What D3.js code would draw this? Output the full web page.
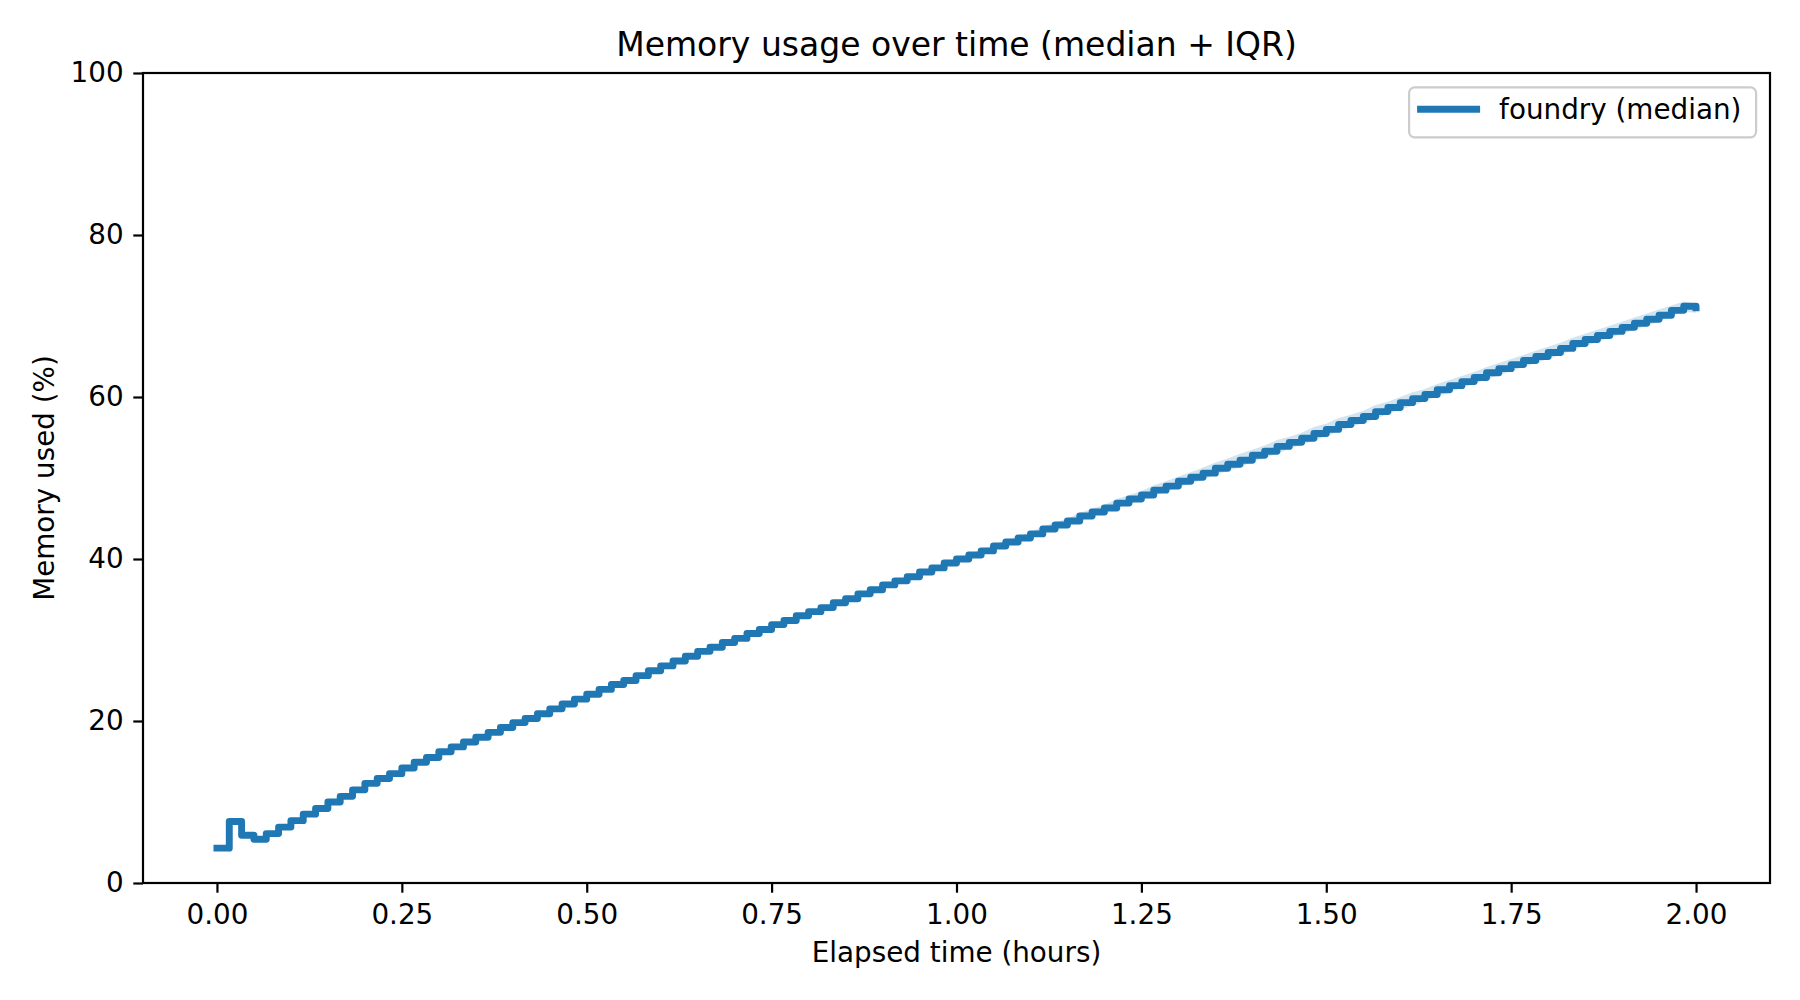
<!DOCTYPE html>
<html>
<head>
<meta charset="utf-8">
<script src="https://cdn.jsdelivr.net/npm/d3@7"></script>
<style>
    html, body { margin: 0; padding: 0; background: #fff; overflow: hidden; }
    svg { display: block; }
    svg text { font-family: "DejaVu Sans", sans-serif; fill: #000; }
</style>
</head>
<body>
<div id="chart"></div>
<script>

// median memory used (%) per minute sample, 0 .. 120 min
const medianPct = [
    4.3, 7.6, 5.9, 5.4, 6.1, 6.9, 7.7, 8.5, 9.2, 10.0,
    10.7, 11.5, 12.3, 12.9, 13.5, 14.2, 14.9, 15.5, 16.2, 16.8,
    17.4, 18.0, 18.6, 19.2, 19.8, 20.3, 20.9, 21.5, 22.1, 22.7,
    23.3, 23.9, 24.5, 25.0, 25.6, 26.2, 26.8, 27.4, 28.0, 28.6,
    29.1, 29.7, 30.2, 30.8, 31.3, 31.9, 32.4, 33.0, 33.5, 34.0,
    34.6, 35.1, 35.7, 36.2, 36.8, 37.3, 37.8, 38.4, 38.9, 39.5,
    40.0, 40.5, 41.0, 41.6, 42.1, 42.6, 43.1, 43.7, 44.2, 44.7,
    45.3, 45.8, 46.3, 46.9, 47.4, 47.9, 48.5, 49.0, 49.6, 50.1,
    50.6, 51.2, 51.7, 52.2, 52.8, 53.3, 53.9, 54.4, 54.9, 55.5,
    56.0, 56.6, 57.1, 57.6, 58.2, 58.7, 59.3, 59.8, 60.3, 60.9,
    61.4, 61.9, 62.4, 63.0, 63.5, 64.0, 64.5, 65.0, 65.5, 66.0,
    66.6, 67.1, 67.6, 68.1, 68.6, 69.1, 69.6, 70.1, 70.7, 71.2,
    71.0
];

// IQR spread below / above the median (percentage points)
const iqrBelow = [
    0, 0, 0, 0, 0, 0, 0, 0, 0, 0,
    0, 0, 0, 0, 0, 0, 0, 0, 0, 0,
    0, 0, 0, 0, 0, 0, 0, 0, 0, 0,
    0, 0, 0, 0, 0, 0, 0, 0, 0, 0,
    0, 0, 0, 0, 0, 0, 0, 0, 0, 0,
    0, 0, 0, 0, 0, 0, 0, 0, 0, 0,
    0.1, 0.1, 0.1, 0.2, 0.2, 0.2, 0.3, 0.3, 0.3, 0.4,
    0.4, 0.5, 0.5, 0.6, 0.6, 0.6, 0.7, 0.7, 0.7, 0.8,
    0.8, 0.8, 0.8, 0.9, 0.8, 0.8, 0.9, 0.8, 0.8, 0.9,
    0.8, 0.9, 0.8, 0.8, 0.9, 0.8, 0.8, 0.9, 0.8, 0.8,
    0.8, 0.8, 0.8, 0.8, 0.8, 0.8, 0.8, 0.8, 0.8, 0.8,
    0.8, 0.8, 0.8, 0.8, 0.8, 0.8, 0.8, 0.8, 0.7, 0.7,
    0.6
];
const iqrAbove = [
    0, 0, 0, 0, 0, 0, 0, 0, 0, 0,
    0, 0, 0, 0, 0, 0, 0, 0, 0, 0,
    0, 0, 0, 0, 0, 0, 0, 0, 0, 0,
    0, 0, 0, 0, 0, 0, 0, 0, 0, 0,
    0, 0, 0, 0, 0, 0, 0, 0, 0, 0,
    0, 0, 0, 0, 0, 0, 0, 0, 0, 0,
    0.1, 0.1, 0.1, 0.1, 0.2, 0.2, 0.2, 0.3, 0.3, 0.3,
    0.4, 0.4, 0.4, 0.5, 0.5, 0.5, 0.6, 0.6, 0.6, 0.6,
    0.7, 0.7, 0.7, 0.8, 0.7, 0.7, 0.8, 0.7, 0.7, 0.8,
    0.7, 0.8, 0.7, 0.7, 0.8, 0.7, 0.7, 0.8, 0.7, 0.7,
    0.7, 0.7, 0.7, 0.7, 0.7, 0.7, 0.7, 0.7, 0.7, 0.7,
    0.7, 0.7, 0.7, 0.7, 0.7, 0.7, 0.7, 0.7, 0.6, 0.6,
    0.5
];

const sampleStepHours = 1 / 60;   // one sample per minute
const xTicks = [0, 0.25, 0.5, 0.75, 1.0, 1.25, 1.5, 1.75, 2.0];
const yTicks = [0, 20, 40, 60, 80, 100];
const seriesLabel = 'foundry (median)';

const containerWidth = 1800;
const containerHeight = 1000;
const margin = { top: 73, right: 30, bottom: 117, left: 143 };
const innerWidth = containerWidth - margin.left - margin.right;
const innerHeight = containerHeight - margin.top - margin.bottom;

const blue = '#1f77b4';
const fontSize = 27.8;
const tickLen = 9.7;
const spineW = 2.2;

const data = medianPct.map((v, i) => ({
    t: i * sampleStepHours,
    v: v,
    lo: v - iqrBelow[i],
    hi: v + iqrAbove[i]
}));

const x = d3.scaleLinear()
    .domain([-0.1, 2.1])
    .range([0, innerWidth]);

const y = d3.scaleLinear()
    .domain([0, 100])
    .range([innerHeight, 0]);

const svg = d3.select('#chart')
    .append('svg')
    .attr('width', containerWidth)
    .attr('height', containerHeight)
    .append('g')
    .attr('transform', `translate(${margin.left}, ${margin.top})`);

// IQR band (straight between samples)
svg.append('path')
    .datum(data)
    .attr('fill', blue)
    .attr('fill-opacity', 0.2)
    .attr('d', d3.area()
        .x(d => x(d.t))
        .y0(d => y(d.lo))
        .y1(d => y(d.hi)));

// median line, stepped
svg.append('path')
    .datum(data)
    .attr('fill', 'none')
    .attr('stroke', blue)
    .attr('stroke-width', 6.9)
    .attr('stroke-linejoin', 'round')
    .attr('stroke-linecap', 'square')
    .attr('d', d3.line()
        .curve(d3.curveStepAfter)
        .x(d => x(d.t))
        .y(d => y(d.v)));

// axes
const xAxis = svg.append('g')
    .attr('transform', `translate(0, ${innerHeight})`)
    .call(d3.axisBottom(x)
        .tickValues(xTicks)
        .tickFormat(d3.format('.2f'))
        .tickSize(tickLen)
        .tickPadding(tickLen));

const yAxis = svg.append('g')
    .call(d3.axisLeft(y)
        .tickValues(yTicks)
        .tickFormat(d3.format('d'))
        .tickSize(tickLen)
        .tickPadding(tickLen));

[xAxis, yAxis].forEach(ax => {
    ax.attr('font-size', fontSize)
        .attr('font-family', '"DejaVu Sans", sans-serif');
    ax.select('.domain').remove();
    ax.selectAll('line').attr('stroke', '#000').attr('stroke-width', spineW);
    ax.selectAll('text').attr('fill', '#000');
});
xAxis.selectAll('text').attr('dy', '0.76em');

// spines
svg.append('rect')
    .attr('x', 0)
    .attr('y', 0)
    .attr('width', innerWidth)
    .attr('height', innerHeight)
    .attr('fill', 'none')
    .attr('stroke', '#000')
    .attr('stroke-width', spineW);

// title + labels
svg.append('text')
    .attr('x', innerWidth / 2)
    .attr('y', -16.7)
    .attr('text-anchor', 'middle')
    .attr('font-size', 33)
    .text('Memory usage over time (median + IQR)');

svg.append('text')
    .attr('x', innerWidth / 2)
    .attr('y', innerHeight + 78.5)
    .attr('text-anchor', 'middle')
    .attr('font-size', fontSize)
    .text('Elapsed time (hours)');

svg.append('text')
    .attr('transform', `translate(${54 - margin.left}, ${innerHeight / 2}) rotate(-90)`)
    .attr('text-anchor', 'middle')
    .attr('font-size', fontSize)
    .text('Memory used (%)');

// legend
const legend = svg.append('g')
    .attr('transform', `translate(${innerWidth - 13.9 - 347}, 14.3)`);

legend.append('rect')
    .attr('width', 347)
    .attr('height', 50)
    .attr('rx', 5.5)
    .attr('fill', '#fff')
    .attr('fill-opacity', 0.8)
    .attr('stroke', '#cccccc')
    .attr('stroke-width', 2.2);

legend.append('line')
    .attr('x1', 8)
    .attr('x2', 71)
    .attr('y1', 22)
    .attr('y2', 22)
    .attr('stroke', blue)
    .attr('stroke-width', 6.9);

legend.append('text')
    .attr('x', 90)
    .attr('y', 22)
    .attr('dy', '0.35em')
    .attr('font-size', fontSize)
    .text(seriesLabel);

</script>
</body>
</html>
